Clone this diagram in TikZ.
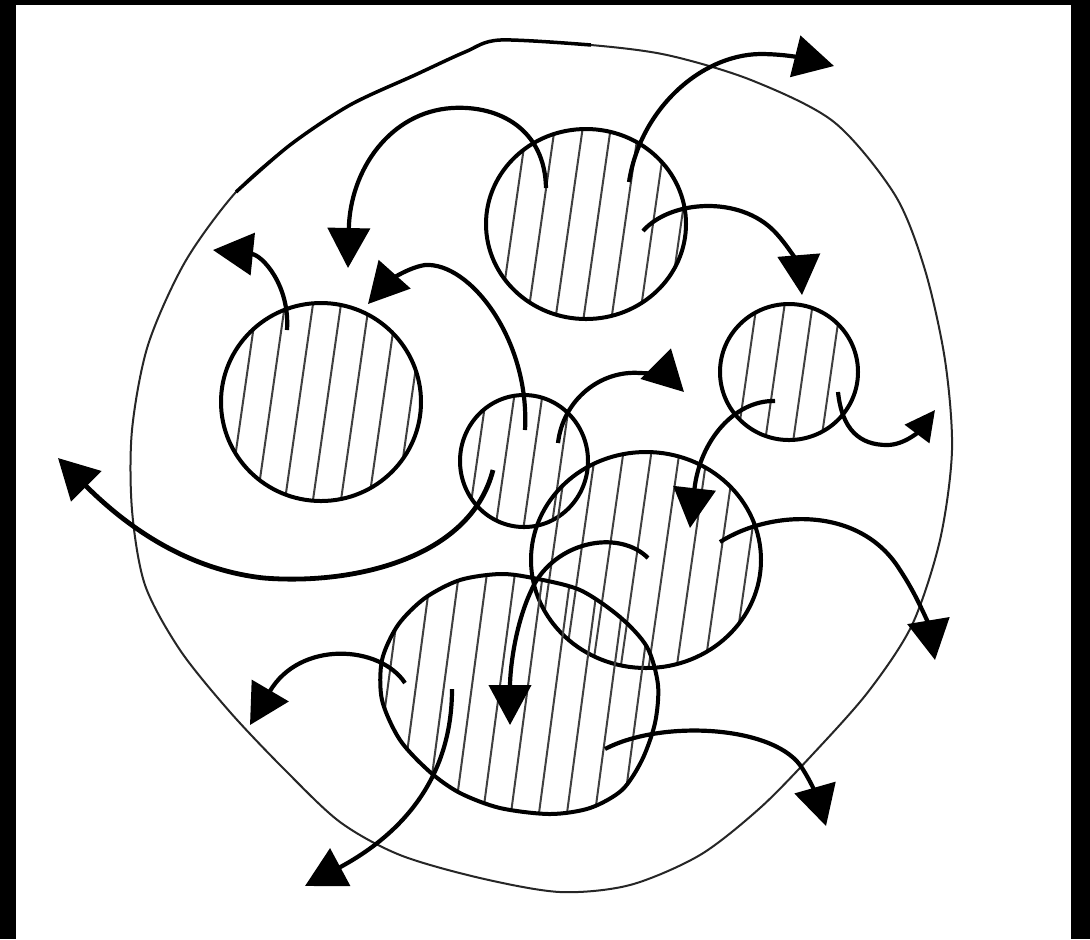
\documentclass[tikz,border=0pt]{standalone}
\usepackage{tikz}
\usetikzlibrary{arrows.meta}

\begin{document}
\begin{tikzpicture}[x=0.1mm, y=-0.1mm,
    wall/.style={draw, line width=0.2mm, black!85},
    blob/.style={draw, line width=0.4mm},
    hatch/.style={line width=0.2mm, black!75},
    flow/.style={line width=0.42mm, -{Triangle[length=4mm, width=4.2mm]}}]
  \useasboundingbox (0,0) rectangle (1090,939);
  \fill[black] (0,0) rectangle (1090,939);
  \fill[white] (16,5) rectangle (1071,939);

  \draw[wall] plot[smooth cycle] coordinates {(500,40) (591,45) (667,55) (751,80) (834,122) (895,195) (925,270) (945,360) (952,450) (940,540) (912,625) (868,692) (812,755) (760,808) (700,855) (630,885) (560,892) (480,878) (400,855) (340,822) (285,770) (230,712) (180,650) (145,585) (132,510) (132,430) (148,345) (185,262) (236,192) (290,145) (350,105) (415,75) (465,52)};
  \draw[line width=0.35mm] plot[smooth] coordinates {(236,192) (290,145) (350,105) (415,75) (465,52) (500,40) (591,45)};

  % hatched blobs
  \foreach \cx/\cy/\rx/\ry/\s in {586/224/100/95/5, 321/402/100/99/0, 789/372/69/68/8, 524/461/64/66/3, 646/560/115/108/12}{
    \begin{scope}
      \clip (\cx,\cy) ellipse [x radius=\rx, y radius=\ry];
      \foreach \h in {-162,-134,...,162}
        \draw[hatch] ({\cx+\h+\s+20},{\cy-140}) -- ({\cx+\h+\s-20},{\cy+140});
    \end{scope}
    \draw[blob] (\cx,\cy) ellipse [x radius=\rx, y radius=\ry];
  }
  \begin{scope}
    \clip plot[smooth cycle] coordinates {(500,574) (533,578) (580,590) (620,617) (647,647) (658,685) (655,723) (642,760) (622,790) (590,808) (550,814) (500,808) (460,793) (430,772) (400,740) (382,700) (382,660) (398,625) (425,598) (460,580)};
    \foreach \h in {-189,-161,...,189}
      \draw[hatch] ({520+\h+20},{693-150}) -- ({520+\h-20},{693+150});
  \end{scope}
  \draw[blob] plot[smooth cycle] coordinates {(500,574) (533,578) (580,590) (620,617) (647,647) (658,685) (655,723) (642,760) (622,790) (590,808) (550,814) (500,808) (460,793) (430,772) (400,740) (382,700) (382,660) (398,625) (425,598) (460,580)};

  % arrow ends
  \coordinate (A1) at (629,182);
  \coordinate (A2) at (546,188);
  \coordinate (A3) at (643,231);
  \coordinate (B1) at (287,330);
  \coordinate (C1) at (775,401);
  \coordinate (C2) at (838,392);
  \coordinate (D1) at (525,430);
  \coordinate (D2) at (558,443);
  \coordinate (D3) at (493,470);
  \coordinate (E1) at (720,542);
  \coordinate (E2) at (648,558);
  \coordinate (F1) at (405,683);
  \coordinate (F2) at (605,749);
  \coordinate (F3) at (452,689);
  \coordinate (tA1) at (834,66);
  \coordinate (tA2) at (348,268);
  \coordinate (tA3) at (802,295);
  \coordinate (tB1) at (213,250);
  \coordinate (tC1) at (690,528);
  \coordinate (tC2) at (935,410);
  \coordinate (tD1) at (368,304);
  \coordinate (tD2) at (684,392);
  \coordinate (tD3) at (58,458);
  \coordinate (tE1) at (935,660);
  \coordinate (tE2) at (510,725);
  \coordinate (tF1) at (250,725);
  \coordinate (tF2) at (826,826);
  \coordinate (tF3) at (305,886);

  \draw[flow] (A1) .. controls (640,110) and (700,55) .. (760,54) .. controls (790,54) and (810,60) .. (tA1);
  \draw[flow] (A2) .. controls (545,130) and (500,105) .. (452,108) .. controls (390,112) and (350,170) .. (tA2);
  \draw[flow] (A3) .. controls (670,200) and (740,195) .. (775,232) .. controls (792,250) and (800,270) .. (tA3);
  \draw[flow] (B1) .. controls (290,285) and (262,255) .. (tB1);
  \draw[flow] (C1) .. controls (735,400) and (700,440) .. (tC1);
  \draw[flow, -{Triangle[length=3mm, width=3mm]}] (C2) .. controls (842,430) and (860,445) .. (887,445) .. controls (905,445) and (920,430) .. (tC2);
  \draw[flow] (D1) .. controls (530,340) and (470,262) .. (425,265) .. controls (405,268) and (385,285) .. (tD1);
  \draw[flow] (D2) .. controls (563,400) and (600,370) .. (640,373) .. controls (655,373) and (670,378) .. (tD2);
  \draw[flow, line width=0.48mm] (D3) .. controls (470,560) and (350,585) .. (264,578) .. controls (190,570) and (130,530) .. (tD3);
  \draw[flow] (E1) .. controls (770,510) and (860,505) .. (900,570) .. controls (920,600) and (930,630) .. (tE1);
  \draw[flow] (E2) .. controls (620,530) and (560,540) .. (535,583) .. controls (515,620) and (510,670) .. (tE2);
  \draw[flow] (F1) .. controls (380,645) and (300,640) .. (tF1);
  \draw[flow] (F2) .. controls (660,720) and (770,725) .. (800,765) .. controls (812,782) and (820,805) .. (tF2);
  \draw[flow] (F3) .. controls (452,780) and (400,835) .. (tF3);
\end{tikzpicture}
\end{document}
